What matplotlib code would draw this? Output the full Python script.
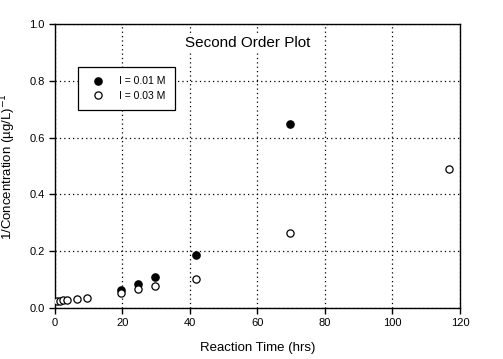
import matplotlib
matplotlib.use("Agg")
import matplotlib.pyplot as plt

plt.rcParams['font.family'] = ['Liberation Sans', 'DejaVu Sans']

# I = 0.01 M (filled)
t_low = [19.6, 24.7, 29.7, 41.7, 69.6]
inv_low = [0.063, 0.084, 0.108, 0.187, 0.647]

# I = 0.03 M (open)
t_high = [0.5, 1.5, 2.5, 3.5, 6.5, 9.5, 19.6, 24.7, 29.7, 41.7, 69.6, 116.7]
inv_high = [0.024, 0.026, 0.027, 0.028, 0.033, 0.037, 0.054, 0.066, 0.079, 0.101, 0.263, 0.489]

fig = plt.figure(figsize=(5.03, 3.59), dpi=100)
ax = fig.add_axes([0.1093, 0.142, 0.8052, 0.791])

ax.plot(t_low, inv_low, 'o', color='black', markersize=5.2, label='I = 0.01 M', zorder=3)
ax.plot(t_high, inv_high, 'o', markerfacecolor='white', markeredgecolor='black',
        markeredgewidth=0.9, markersize=5.2, label='I = 0.03 M', zorder=4)

ax.set_xlim(0, 120)
ax.set_ylim(0, 1.0)
ax.set_xticks([0, 20, 40, 60, 80, 100, 120])
ax.set_yticks([0.0, 0.2, 0.4, 0.6, 0.8, 1.0])
ax.set_yticklabels(['0.0', '0.2', '0.4', '0.6', '0.8', '1.0'])
ax.tick_params(direction='out', length=4, width=1, labelsize=8, colors='black')
ax.grid(True, linestyle=(0, (1, 2.5)), color='black', linewidth=0.9)
for s in ax.spines.values():
    s.set_linewidth(1.0)

ax.set_xlabel('Reaction Time (hrs)', fontsize=9.5, labelpad=10)
ax.set_ylabel('1/Concentration (\u00b5g/L)$^{-1}$', fontsize=9.5, labelpad=8)

ax.text(57.2, 0.935, 'Second Order Plot', fontsize=11, ha='center', va='center',
        bbox=dict(facecolor='white', edgecolor='none', pad=1))

leg = ax.legend(loc='upper left', bbox_to_anchor=(0.057, 0.849), borderaxespad=0,
                fontsize=7.5, frameon=True, fancybox=False, edgecolor='black',
                framealpha=1, handletextpad=1.0, borderpad=0.9, labelspacing=0.45,
                handlelength=2.0)
leg.get_frame().set_linewidth(0.9)

fig.savefig('out.png', dpi=100)
